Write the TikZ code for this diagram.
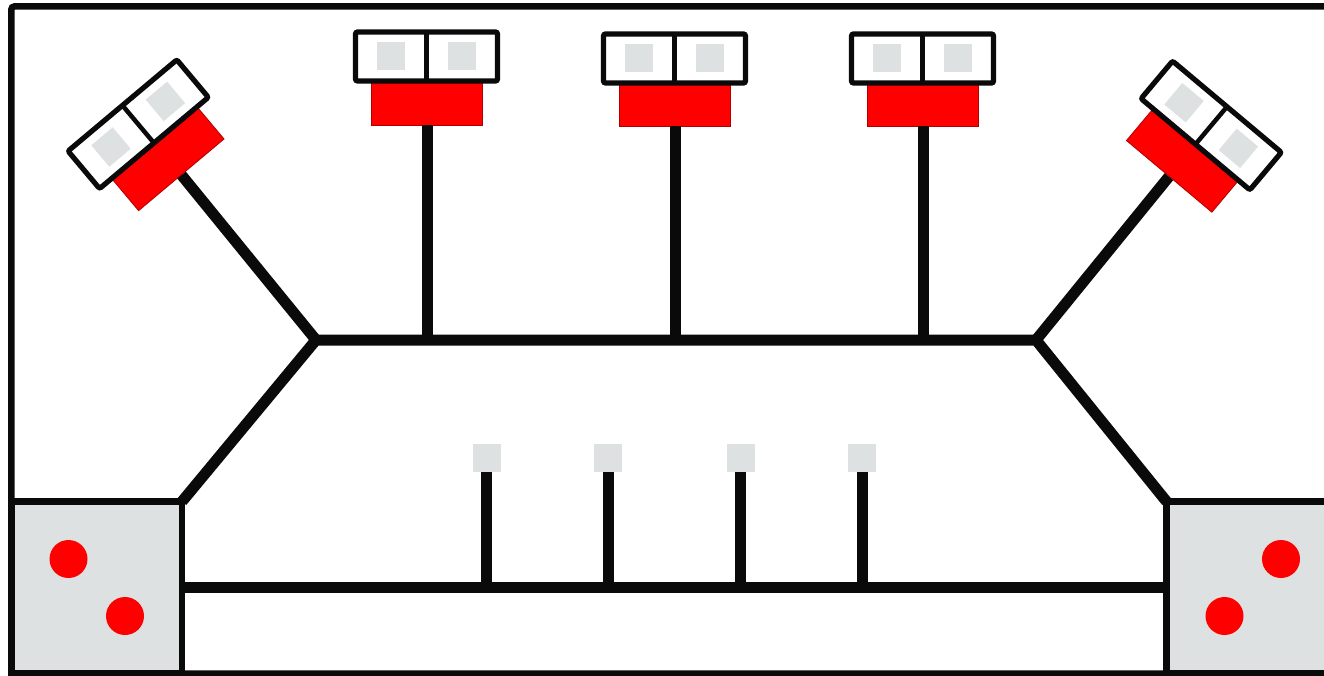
\documentclass[tikz,border=0pt]{standalone}
\usepackage{xcolor}
\definecolor{padgray}{RGB}{221,225,226}
\definecolor{wire}{RGB}{10,10,10}
\tikzset{
  wirebus/.style={draw=wire, line width=11pt},
  frameline/.style={draw=wire, line width=6.5pt},
  cell/.style={draw=wire, fill=white, line width=5.2pt, rounded corners=2pt, minimum width=142pt, minimum height=49pt, inner sep=0pt, outer sep=0pt},
  plug/.style={draw=red!70!black, fill=red, line width=0.8pt, minimum width=111.5pt, minimum height=44pt, inner sep=0pt},
  pad/.style={fill=padgray, minimum size=28pt, inner sep=0pt},
  dot/.style={circle, fill=red, minimum size=38pt, inner sep=0pt},
  corner/.style={frameline, fill=padgray},
}
% one connector head: name, centre of the white part, angle, drop of the red part
\newcommand{\conhead}[5]{
\begin{scope}[shift={(#2,#3)},rotate=#4,transform shape]
\node[plug] (#1r) at (0.5,#5) {};
\node[cell] (#1c) at (0,0) {};
\draw[draw=wire, line width=4.5pt] (#1c.north)--(#1c.south);
\node[pad] (#1a) at (-35.5,0) {};
\node[pad] (#1b) at (35.5,0) {};
\end{scope}
}
\begin{document}
\begin{tikzpicture}[x=1pt,y=-1pt]
\useasboundingbox (0,0) rectangle (1324,676);
\fill[white] (0,0) rectangle (1324,676);
%frame
\draw[frameline, rounded corners=3pt] (1330,6.5)--(11.3,6.5)--(11.3,673.5)--(1330,673.5);
%corner boxes
\draw[corner] (11.3,501.5)--(182,501.5)--(182,673.5)--(11.3,673.5)--cycle;
\draw[corner] (1330,501.5)--(1166.5,501.5)--(1166.5,673.5)--(1330,673.5);
\fill[padgray] (1169.75,504.75) rectangle (1324,670.25);
\node[dot] (d1) at (68.5,559) {};
\node[dot] (d2) at (125,616) {};
\node[dot] (d3) at (1281,559) {};
\node[dot] (d4) at (1224.5,616) {};
%branch points
\coordinate (bl) at (316,340);
\coordinate (br) at (1036,340);
\coordinate (cl) at (182,501.5);
\coordinate (cr) at (1166.5,501.5);
%heads
\conhead{h1}{138.2}{124.2}{40}{44.5}
\conhead{h2}{426.5}{56.5}{0}{46.5}
\conhead{h3}{674.5}{58.5}{0}{45.5}
\conhead{h4}{922.5}{58.5}{0}{45.5}
\conhead{h5}{1211.2}{125.5}{-40}{44}
%upper harness
\draw[wirebus, line join=miter] (cl)--(bl)--(br)--(cr);
\draw[wirebus] (h1r.south)--(bl);
\draw[wirebus] (h5r.south)--(br);
\draw[wirebus] (h2r.south)--(h2r.south|-bl);
\draw[wirebus] (h3r.south)--(h3r.south|-bl);
\draw[wirebus] (h4r.south)--(h4r.south|-bl);
%lower harness
\draw[wirebus] (cl|-0,587.5)--(cr|-0,587.5);
\foreach \name/\xpos in {s1/486.7,s2/608,s3/740.7,s4/862.3}{
  \node[pad] (\name) at (\xpos,458) {};
  \draw[wirebus] (\name.south)--(\xpos,587.5);
}
\end{tikzpicture}
\end{document}
